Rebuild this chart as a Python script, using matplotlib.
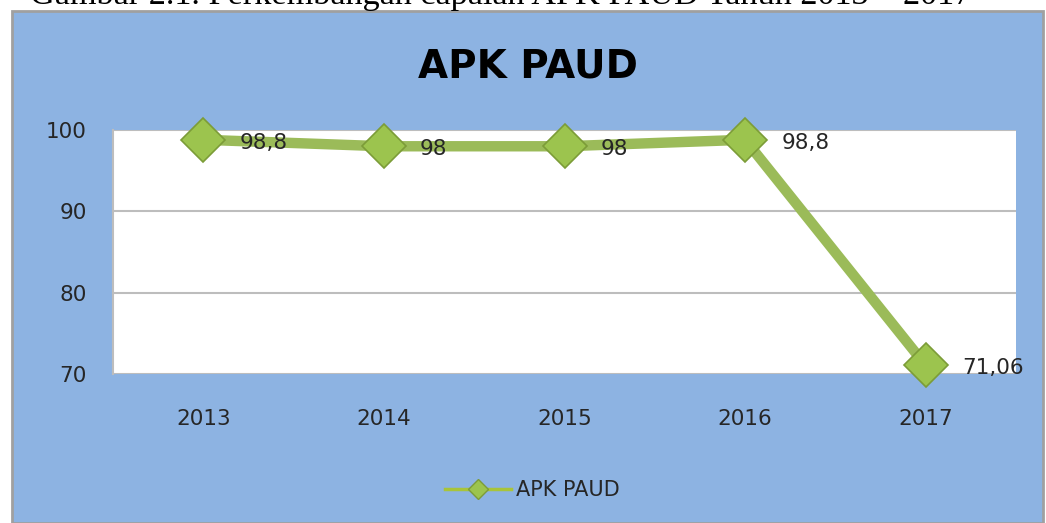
import matplotlib
matplotlib.use("Agg")
import matplotlib.pyplot as plt
from matplotlib.patches import Rectangle
from matplotlib.lines import Line2D

years = ["2013", "2014", "2015", "2016", "2017"]
apk_paud = [98.8, 98.0, 98.0, 98.8, 71.06]
value_labels = ["98,8", "98", "98", "98,8", "71,06"]
y_ticks = [70, 80, 90, 100]
series_name = "APK PAUD"
chart_title = "APK PAUD"
caption = "Gambar 2.1. Perkembangan capaian APK PAUD Tahun 2013 \u2013 2017"

W, H = 1046, 523
fig = plt.figure(figsize=(W / 100, H / 100), dpi=100, facecolor="white")

# Caption (cut off at top of image, as in the reference)
fig.text(30 / W, 1 - 4 / H, caption, family="Liberation Serif", fontsize=24.7,
         ha="left", va="baseline", color="black")

# Blue chart area
bg = Rectangle((12 / W, 0), (1043 - 12) / W, (H - 11) / H, transform=fig.transFigure,
               facecolor="#8DB3E2", edgecolor="#A0A0A0", linewidth=2, zorder=-10)
fig.patches.append(bg)

ax = fig.add_axes([113 / W, 1 - 374 / H, (1016 - 113) / W, (374 - 130) / H])
ax.set_zorder(5)
ax.set_facecolor("white")
x = list(range(len(years)))
ax.set_xlim(-0.5, len(years) - 0.5)
ax.set_ylim(70, 100)
ax.set_yticks(y_ticks)
ax.set_xticks(x)
ax.set_xticklabels(years)
ax.tick_params(axis="both", length=0, labelsize=15.5, colors="#262626")
ax.tick_params(axis="y", pad=19)
ax.tick_params(axis="x", pad=25)
ax.yaxis.grid(True, color="#BDBDBD", linewidth=1.5)
ax.set_axisbelow(True)
for s in ["right", "bottom", "top"]:
    ax.spines[s].set_visible(False)
ax.spines["left"].set_color("#BDBDBD")
ax.spines["left"].set_linewidth(1.5)

ax.plot(x, apk_paud, color="#9BBB59", linewidth=7.5, marker="D", markersize=22,
        markerfacecolor="#9CC44E", markeredgecolor="#7C9C38", markeredgewidth=1.2,
        zorder=3, clip_on=False)

for xi, v, lab in zip(x, apk_paud, value_labels):
    ax.annotate(lab, (xi, v), xytext=(26, -2), textcoords="offset points",
                ha="left", va="center", fontsize=15.5, color="#262626",
                annotation_clip=False)

fig.text(528 / W, 1 - 66 / H, chart_title, fontsize=28, fontweight="bold",
         ha="center", va="center", color="black")

handle = Line2D([0], [0], color="#A8C43A", linewidth=2.5, marker="D", markersize=10,
                markerfacecolor="#9CC44E", markeredgecolor="#7C9C38")
fig.legend([handle], [series_name], loc="center", bbox_to_anchor=(532 / W, 1 - 490 / H),
           frameon=False, fontsize=15, handlelength=3.2, handletextpad=0.2,
           labelcolor="#262626")

fig.savefig("out.png", dpi=100, facecolor="white")
